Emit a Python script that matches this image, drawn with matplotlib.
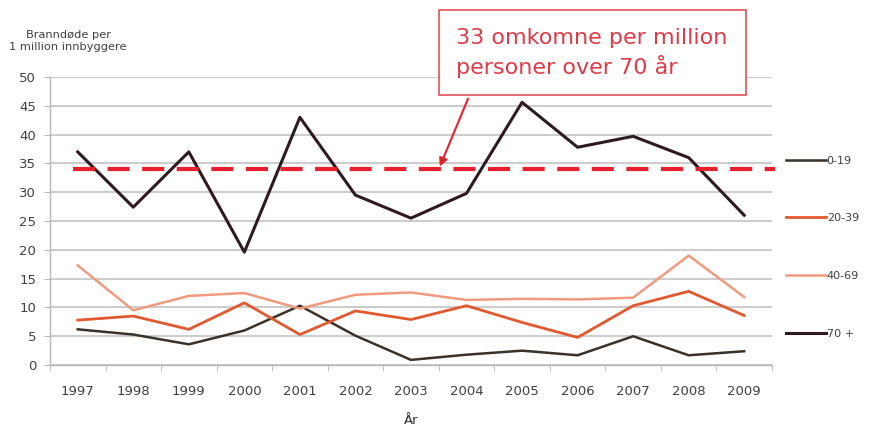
import matplotlib.pyplot as plt
import numpy as np

# Data
years = ['1997', '1998', '1999', '2000', '2001', '2002', '2003',
         '2004', '2005', '2006', '2007', '2008', '2009']
age_0_19 = [6.2, 5.3, 3.6, 6.0, 10.3, 5.1, 0.9, 1.8, 2.5, 1.7, 5.0, 1.7, 2.4]
age_20_39 = [7.8, 8.5, 6.2, 10.8, 5.3, 9.4, 7.9, 10.3, 7.4, 4.8, 10.3, 12.8, 8.6]
age_40_69 = [17.3, 9.5, 12.0, 12.5, 9.8, 12.2, 12.6, 11.3, 11.5, 11.4, 11.7, 19.0, 11.8]
age_70 = [37.0, 27.4, 37.0, 19.6, 43.0, 29.5, 25.5, 29.8, 45.6, 37.8, 39.7, 36.0, 26.0]
ref_level = 34

x = np.arange(len(years))

fig = plt.figure(figsize=(8.72, 4.30), dpi=100)
ax = fig.add_axes([0.0573, 0.151, 0.828, 0.670])

# Grid and axes styling
ax.set_ylim(0, 50)
ax.set_xlim(-0.5, len(years) - 0.5)
ax.set_yticks(np.arange(0, 51, 5))
ax.yaxis.grid(True, color='#c8c8c8', linewidth=1.3)
ax.set_axisbelow(True)
for side in ['top', 'right']:
    ax.spines[side].set_visible(False)
for side in ['left', 'bottom']:
    ax.spines[side].set_color('#b8b8b8')
    ax.spines[side].set_linewidth(1.0)
ax.set_xticks(x)
ax.set_xticklabels(years)
ax.set_xticks(np.arange(-0.5, len(years)), minor=True)
ax.tick_params(axis='x', which='major', length=0, pad=14, labelsize=9.5, labelcolor='#404040')
ax.tick_params(axis='x', which='minor', length=4, color='#b8b8b8', direction='out')
ax.tick_params(axis='y', length=4, color='#b8b8b8', labelsize=9.5, labelcolor='#404040', pad=6)

# Series
ax.plot(x, age_0_19, color='#3b3129', linewidth=1.8, label='0-19')
ax.plot(x, age_20_39, color='#e2582f', linewidth=2.0, label='20-39')
ax.plot(x, age_40_69, color='#f09a80', linewidth=1.8, label='40-69')
ax.plot(x, age_70, color='#2e1a1f', linewidth=2.2, label='70 +')

# Reference line
ax.hlines(ref_level, -0.09, 12.56, color='#e8202e', linewidth=3.0,
          linestyles=(0, (5.3, 3.0)), clip_on=False)

# Legend
leg = ax.legend(loc='upper left', bbox_to_anchor=(1.005, 0.762), frameon=False,
                fontsize=8, labelspacing=4.3, handlelength=3.6, handletextpad=0.1,
                labelcolor='#404040')

# Labels
fig.text(0.078, 0.905, 'Branndøde per\n1 million innbyggere', ha='center', va='center',
         fontsize=8.2, color='#404040', linespacing=1.25)
ax.set_xlabel('År', fontsize=9.5, color='#303030', labelpad=12)

# Annotation box with arrow
ax.annotate('33 omkomne per million\npersoner over 70 år',
            xy=(6.5, ref_level), xycoords='data',
            xytext=(0.679, 0.877), textcoords='figure fraction',
            ha='center', va='center', multialignment='left',
            fontsize=16, color='#e03a48', linespacing=1.35,
            bbox=dict(boxstyle='square,pad=0.8', fc='white', ec='#e0505a', lw=1.2),
            arrowprops=dict(arrowstyle='-|>', color='#e8202e', lw=1.5,
                            relpos=(0.075, 0.0), mutation_scale=12))

fig.savefig('out.png', dpi=100)
